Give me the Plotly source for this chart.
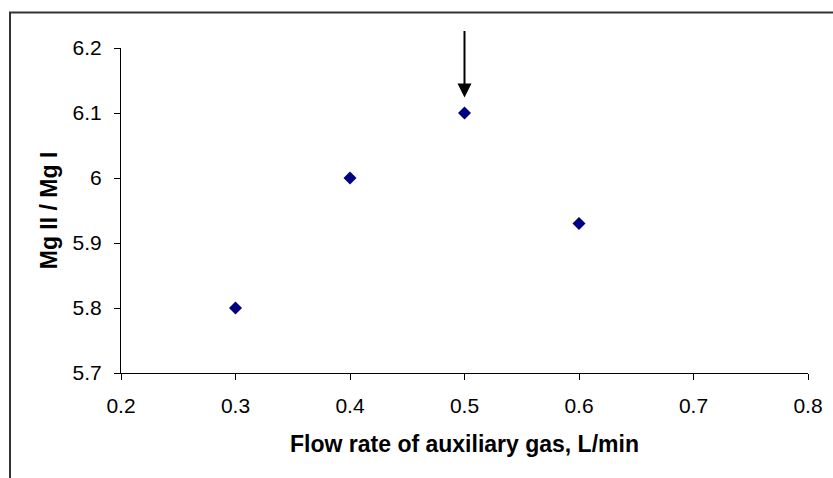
import plotly.graph_objects as go

flow_rate = [0.3, 0.4, 0.5, 0.6]
mg_ratio = [5.80, 6.00, 6.10, 5.93]
x_ticks = [0.2, 0.3, 0.4, 0.5, 0.6, 0.7, 0.8]
y_ticks = [5.7, 5.8, 5.9, 6.0, 6.1, 6.2]
y_tick_text = ["5.7", "5.8", "5.9", "6", "6.1", "6.2"]
arrow_x = 0.5
arrow_tip_y = 6.124

W, H = 833, 478
L, R, T, B = 121, 25, 48, 105
pw, ph = W - L - R, H - T - B

fig = go.Figure()
fig.add_trace(go.Scatter(
    x=flow_rate, y=mg_ratio, mode="markers",
    marker=dict(symbol="diamond", size=10, color="#000080",
                line=dict(width=0)),
    showlegend=False,
))

fig.add_annotation(
    x=arrow_x, y=arrow_tip_y, xref="x", yref="y",
    ax=0, ay=-68, axref="pixel", ayref="pixel",
    showarrow=True, arrowhead=2, arrowsize=1.4, arrowwidth=2,
    arrowcolor="black", text="",
)

# outer frame
fig.add_shape(
    type="rect", xref="paper", yref="paper",
    x0=(10 - L) / pw, x1=2.0,
    y0=-1.0, y1=1 + (T - 12.5) / ph,
    line=dict(color="#333333", width=2), fillcolor="rgba(0,0,0,0)",
    layer="below",
)

axis_font = dict(family="Liberation Sans, Arial, sans-serif", size=21, color="black")
title_font = dict(family="Liberation Sans, Arial, sans-serif", size=23, color="black")

fig.update_xaxes(
    range=[0.2, 0.8], tickvals=x_ticks, ticktext=[str(v) for v in x_ticks],
    showgrid=False, zeroline=False, showline=True, linecolor="black", linewidth=1,
    ticks="outside", ticklen=6, tickcolor="black", tickwidth=1,
    tickfont=axis_font, ticklabelstandoff=8,
    title=dict(text="<b>Flow rate of auxiliary gas, L/min</b>", font=title_font, standoff=19),
)
fig.update_yaxes(
    range=[5.7, 6.2], tickvals=y_ticks, ticktext=y_tick_text,
    showgrid=False, zeroline=False, showline=True, linecolor="black", linewidth=1,
    ticks="outside", ticklen=6, tickcolor="black", tickwidth=1,
    tickfont=axis_font, ticklabelstandoff=8,
    title=dict(text="<b>Mg II / Mg I</b>", font=title_font, standoff=8),
)

fig.update_layout(
    width=W, height=H,
    margin=dict(l=L, r=R, t=T, b=B, autoexpand=False),
    paper_bgcolor="white", plot_bgcolor="white",
)

fig.write_html("out.html")
